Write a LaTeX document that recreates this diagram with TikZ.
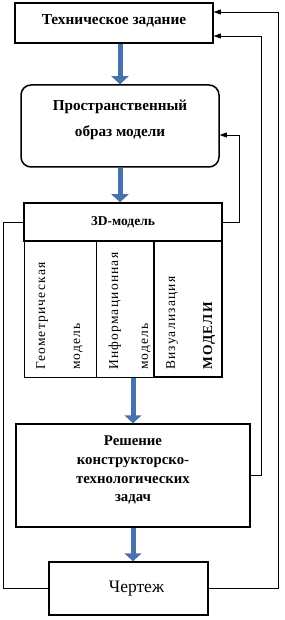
\documentclass[tikz,border=0pt]{standalone}
\usepackage{fontspec}
\setmainfont{Liberation Serif}
\usetikzlibrary{arrows.meta,positioning}
\definecolor{flowblue}{RGB}{72,114,172}

\begin{document}
\begin{tikzpicture}[x=1pt, y=-1pt,
  box/.style={draw, line width=1.5pt, inner sep=3pt, align=center, font=\bfseries\fontsize{15.3}{19}\selectfont},
  col/.style={draw, line width=1pt, minimum height=136pt},
  coltext/.style={rotate=90, anchor=base west, inner sep=0pt, align=left,
    font=\fontsize{13.5}{30}\selectfont\addfontfeature{LetterSpace=9}},
  flow/.style={-{Triangle[width=17pt,length=8pt]}, line width=5pt, flowblue},
  fb/.style={-{Triangle[width=5pt,length=7pt]}, line width=0.6pt},
  fbline/.style={line width=0.6pt}
]
\useasboundingbox (0,0) rectangle (284,620);

\node[box, minimum width=198pt, minimum height=40pt, text depth=7.3pt] (tz) at (114,23) {Техническое задание};
\node[box, rounded corners=10pt, minimum width=198pt, minimum height=82pt, text depth=15.3pt,
  font=\bfseries\fontsize{15.2}{26}\selectfont] (obraz) at (120,126) {Пространственный\\образ модели};
\node[box, minimum width=198pt, minimum height=38pt, font=\bfseries\fontsize{13.5}{19}\selectfont] (m3d) at (123,222) {3D-модель};

% columns of the 3D model
\node[col, minimum width=72pt] (geom) at (60,309) {};
\node[col, minimum width=58pt] (info) at (125,309) {};
\node[col, minimum width=68pt, line width=1.3pt] (vis) at (188,309) {};
\node[coltext] (geomtxt) at (80,370) {Геометрическая\\[5pt]модель};
\node[coltext] (infotxt) at (148,370) {Информационная\\модель};
\node[coltext] (vistxt) at (212,370) {Визуализация\\[7pt]\textbf{МОДЕЛИ}};

\node[box, minimum width=234pt, minimum height=103pt, text depth=13pt,
  font=\bfseries\fontsize{14.8}{18.7}\selectfont] (resh) at (133,475.5)
  {Решение\\конструкторско-\\технологических\\задач};
\node[box, minimum width=159pt, minimum height=53pt, font=\fontsize{17.5}{19}\selectfont] (cher) at (128.5,588.5)
  {\hspace*{16pt}Чертеж};

% main flow
\draw[flow] (tz.south -| obraz.north) -- (obraz.north);
\draw[flow] (obraz.south) -- (obraz.south |- m3d.north);
\draw[flow] (info.south -| resh.north) -- (resh.north);
\draw[flow] (resh.south) -- (resh.south |- cher.north);

% feedback
\coordinate (r1) at (278,12);
\coordinate (r2) at (261,36);
\coordinate (r3) at (239,135);
\coordinate (l1) at (3,222);
\draw[fb] (cher.east) -| (r1) -- (r1 -| tz.east);
\draw[fb] (resh.east) -| (r2) -- (r2 -| tz.east);
\draw[fb] (m3d.east) -| (r3) -- (r3 -| obraz.east);
\draw[fbline] (cher.west) -| (l1) -- (m3d.west);
\end{tikzpicture}
\end{document}
